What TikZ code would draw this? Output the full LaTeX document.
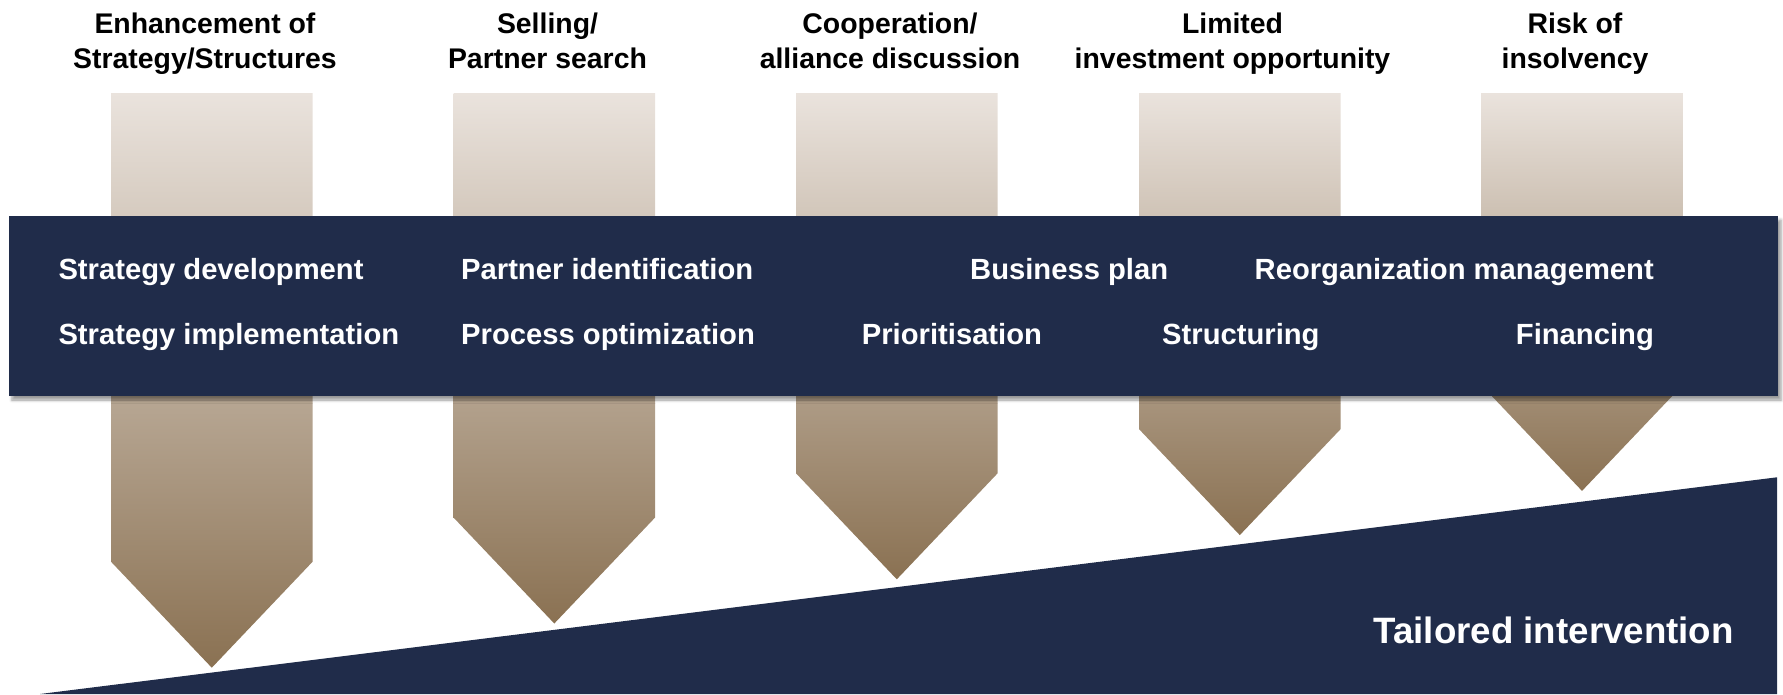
\documentclass[tikz,border=0pt]{standalone}
\usepackage{fontspec}
\setmainfont{Liberation Sans}
\usetikzlibrary{shadows.blur}
\definecolor{bandnavy}{HTML}{202C4A}
\definecolor{arrowtop}{HTML}{EAE3DD}
\definecolor{arrowtip}{HTML}{8A7152}
\tikzset{
  arrowshade/.style={top color=arrowtop, bottom color=arrowtip},
  headtext/.style={align=center, inner sep=0pt, anchor=base,
    font=\fontsize{28.4}{35}\selectfont\bfseries},
  bandtext/.style={text=white, inner sep=0pt,
    font=\fontsize{29.2}{35}\selectfont\bfseries}
}
\begin{document}
\begin{tikzpicture}[x=1pt, y=-1pt]
            \useasboundingbox (0, 0) rectangle (1783, 694);

            % arrows
            \shade[arrowshade] (111, 93) -- (312.6, 93) -- (312.6, 561.7) -- (211.8, 667.7) -- (111, 561.7) -- cycle;
            \shade[arrowshade] (453.5, 93) -- (655.1, 93) -- (655.1, 517.5) -- (554.3, 623.5) -- (453.5, 517.5) -- cycle;
            \shade[arrowshade] (796, 93) -- (997.6, 93) -- (997.6, 473.3) -- (896.8, 579.3) -- (796, 473.3) -- cycle;
            \shade[arrowshade] (1139, 93) -- (1340.6, 93) -- (1340.6, 429.1) -- (1239.8, 535.1) -- (1139, 429.1) -- cycle;
            \shade[arrowshade] (1481.2, 93) -- (1682.8, 93) -- (1682.8, 384.9) -- (1582, 490.9) -- (1481.2, 384.9) -- cycle;

            % wedge
            \fill[bandnavy] (40, 694) -- (1777, 477.3) -- (1777, 694) -- cycle;
            \node[bandtext, anchor=base east, font=\fontsize{36.7}{40}\selectfont\bfseries] (tailored) at (1734, 643.3) {Tailored intervention};

            % band
            \fill[bandnavy, blur shadow={shadow xshift=3pt, shadow yshift=-4pt, shadow blur radius=3pt}] (9, 216) rectangle (1778, 396);

            \node[headtext] (enh) at (205, 68.3) {Enhancement of\\Strategy/Structures};
            \node[headtext] (sell) at (547.5, 68.3) {Selling/\\Partner search};
            \node[headtext] (coop) at (890, 68.3) {Cooperation/\\alliance discussion};
            \node[headtext] (lim) at (1232.5, 68.3) {Limited\\investment opportunity};
            \node[headtext] (risk) at (1575, 68.3) {Risk of\\insolvency};

            \node[bandtext, anchor=base west] (sdev) at (58.3, 279) {Strategy development};
            \node[bandtext, anchor=base west] (simp) at (58.3, 344.3) {Strategy implementation};
            \node[bandtext, anchor=base west] (pid) at (461, 279) {Partner identification};
            \node[bandtext, anchor=base west] (popt) at (461, 344.3) {Process optimization};
            \node[bandtext, anchor=base west] (prio) at (861.7, 344.3) {Prioritisation};
            \node[bandtext, anchor=base west] (bplan) at (970, 279) {Business plan};
            \node[bandtext, anchor=base west] (struc) at (1162, 344.3) {Structuring};
            \node[bandtext, anchor=base east] (reorg) at (1654, 279) {Reorganization management};
            \node[bandtext, anchor=base east] (fin) at (1654, 344.3) {Financing};
        \end{tikzpicture}
\end{document}
